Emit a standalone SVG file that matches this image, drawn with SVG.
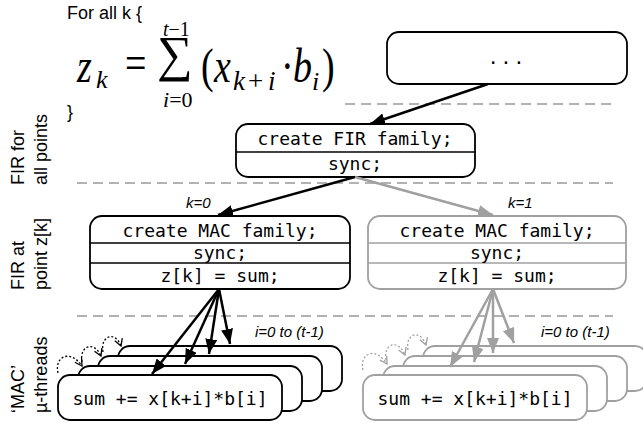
<svg xmlns="http://www.w3.org/2000/svg" width="643" height="423" viewBox="0 0 643 423">
<defs>
<style>
.box{fill:#fff;stroke:#000;stroke-width:1.8}
.gbox{fill:#fff;stroke:#a0a0a0;stroke-width:1.8}
.div{stroke:#000;stroke-width:1.5}
.gdiv{stroke:#a0a0a0;stroke-width:1.5}
.code{font-family:"DejaVu Sans Mono","Liberation Mono",monospace;font-size:18px;fill:#000;text-anchor:middle}
.lbl{font-family:"Liberation Sans",Arial,sans-serif;font-size:18px;fill:#000}
.it{font-family:"Liberation Sans",Arial,sans-serif;font-size:15px;font-style:italic;fill:#000}
.dash{stroke:#999;stroke-width:1.6;stroke-dasharray:10,6;fill:none}
.arr{stroke:#000;stroke-width:2.5;fill:none;marker-end:url(#ah)}
.garr{stroke:#a0a0a0;stroke-width:2.5;fill:none;marker-end:url(#gah)}
.dot{stroke:#000;stroke-width:1.3;stroke-dasharray:2,2;fill:none;marker-end:url(#vh)}
.gdot{stroke:#a0a0a0;stroke-width:1.3;stroke-dasharray:2,2;fill:none;marker-end:url(#gvh)}
.m{font-family:"Liberation Serif","Times New Roman","DejaVu Serif",serif;fill:#000}
</style>
<marker id="ah" markerUnits="userSpaceOnUse" markerWidth="16" markerHeight="12" refX="15" refY="6" orient="auto"><path d="M0,0 L15,6 L0,12 z" fill="#000"/></marker>
<marker id="gah" markerUnits="userSpaceOnUse" markerWidth="16" markerHeight="12" refX="15" refY="6" orient="auto"><path d="M0,0 L15,6 L0,12 z" fill="#a0a0a0"/></marker>
<marker id="vh" markerUnits="userSpaceOnUse" markerWidth="10" markerHeight="10" refX="8" refY="5" orient="auto"><path d="M1,1 L8,5 L1,9" fill="none" stroke="#000" stroke-width="1.3"/></marker>
<marker id="gvh" markerUnits="userSpaceOnUse" markerWidth="10" markerHeight="10" refX="8" refY="5" orient="auto"><path d="M1,1 L8,5 L1,9" fill="none" stroke="#a0a0a0" stroke-width="1.3"/></marker>
</defs>
<rect width="643" height="423" fill="#fff"/>

<g id="separators">
<line class="dash" x1="345" y1="104" x2="613" y2="104"/>
<line class="dash" x1="77" y1="183" x2="613" y2="183"/>
<line class="dash" x1="77" y1="316" x2="613" y2="316"/>
</g>

<g id="side-labels">
<text class="lbl" transform="translate(24,185) rotate(-90)">FIR for</text>
<text class="lbl" transform="translate(47,185) rotate(-90)">all points</text>
<text class="lbl" transform="translate(24,290) rotate(-90)">FIR at</text>
<text class="lbl" transform="translate(47,290) rotate(-90)">point z[k]</text>
<text class="lbl" transform="translate(24,413) rotate(-90)">‘MAC’</text>
<text class="lbl" transform="translate(47,413) rotate(-90)">µ-threads</text>
</g>

<g id="formula">
<text class="lbl" x="67" y="19">For all k {</text>
<text class="lbl" x="67" y="118">}</text>
<g transform="translate(0,82) scale(1,1.3)" class="m" font-size="38">
<text x="77" y="0" font-style="italic">z</text>
<text x="125" y="-2.5">=</text>
<text x="201" y="0">(</text>
<text x="214" y="0" font-style="italic">x</text>
<text x="281" y="0">·</text>
<text x="293" y="0" font-style="italic">b</text>
<text x="322" y="0">)</text>
</g>
<text class="m" x="157" y="71" font-size="50">∑</text>
<text class="m" x="96" y="88" font-size="26" font-style="italic">k</text>
<text class="m" y="90" font-size="27"><tspan x="233" font-style="italic">k</tspan><tspan x="248">+</tspan><tspan x="268" font-style="italic">i</tspan></text>
<text class="m" x="312" y="90" font-size="26" font-style="italic">i</text>
<text class="m" x="163" y="36" font-size="20"><tspan font-style="italic">t</tspan>−1</text>
<text class="m" x="163" y="107" font-size="22"><tspan font-style="italic">i</tspan>=0</text>
</g>

<g id="node-top">
<rect class="box" x="387" y="32" width="240" height="52" rx="12"/>
<text class="code" x="507" y="64" letter-spacing="2">...</text>
</g>

<g id="node-fir">
<rect class="box" x="236" y="124" width="239" height="53" rx="12"/>
<line class="div" x1="236" y1="152" x2="475" y2="152"/>
<text class="code" x="355" y="145">create FIR family;</text>
<text class="code" x="355" y="170">sync;</text>
</g>

<g id="node-mac0">
<rect class="box" x="90" y="216" width="260" height="73" rx="12"/>
<line class="div" x1="90" y1="243" x2="350" y2="243"/>
<line class="div" x1="90" y1="263" x2="350" y2="263"/>
<text class="code" x="220" y="237">create MAC family;</text>
<text class="code" x="220" y="259">sync;</text>
<text class="code" x="220" y="282">z[k] = sum;</text>
</g>

<g id="node-mac1">
<rect class="gbox" x="368" y="216" width="258" height="73" rx="12"/>
<line class="gdiv" x1="368" y1="243" x2="626" y2="243"/>
<line class="gdiv" x1="368" y1="263" x2="626" y2="263"/>
<text class="code" x="497" y="237">create MAC family;</text>
<text class="code" x="497" y="259">sync;</text>
<text class="code" x="497" y="282">z[k] = sum;</text>
</g>

<g id="threads-k0">
<rect class="box" x="118" y="346" width="224" height="45" rx="12"/>
<rect class="box" x="98" y="356" width="224" height="45" rx="12"/>
<rect class="box" x="78" y="366" width="224" height="45" rx="12"/>
<rect class="box" x="58" y="375" width="224" height="45" rx="12"/>
<text class="code" x="170" y="405">sum += x[k+i]*b[i]</text>
</g>

<g id="threads-k1">
<rect class="gbox" x="423" y="346" width="224" height="45" rx="12"/>
<rect class="gbox" x="403" y="356" width="224" height="45" rx="12"/>
<rect class="gbox" x="383" y="366" width="224" height="45" rx="12"/>
<rect class="gbox" x="363" y="375" width="224" height="45" rx="12"/>
<text class="code" x="475" y="405">sum += x[k+i]*b[i]</text>
</g>

<g id="connectors">
<line class="arr" x1="488" y1="84" x2="370" y2="124"/>
<line class="arr" x1="355" y1="177" x2="218" y2="215"/>
<line class="garr" x1="355" y1="177" x2="493" y2="215"/>
<line class="arr" x1="219" y1="289" x2="152" y2="374"/>
<line class="arr" x1="219" y1="289" x2="185" y2="364"/>
<line class="arr" x1="219" y1="289" x2="209" y2="354"/>
<line class="arr" x1="219" y1="289" x2="230" y2="344"/>
<line class="garr" x1="493" y1="289" x2="450" y2="367"/>
<line class="garr" x1="493" y1="289" x2="474" y2="362"/>
<line class="garr" x1="493" y1="289" x2="493" y2="353"/>
<line class="garr" x1="493" y1="289" x2="514" y2="343"/>
<path class="dot" d="M58,373 C54,356 71,349 82,366"/>
<path class="dot" d="M82,362 C79,346 94,340 101,356"/>
<path class="dot" d="M103,352 C100,336 115,330 121,346"/>
<path class="gdot" d="M363,370 C359,353 376,346 387,364"/>
<path class="gdot" d="M386,360 C383,344 398,338 405,355"/>
<path class="gdot" d="M408,350 C405,334 420,328 426,345"/>
<text class="it" x="186" y="208">k=0</text>
<text class="it" x="508" y="208">k=1</text>
<text class="it" x="255" y="337">i=0 to (t-1)</text>
<text class="it" x="541" y="337">i=0 to (t-1)</text>
</g>
</svg>
